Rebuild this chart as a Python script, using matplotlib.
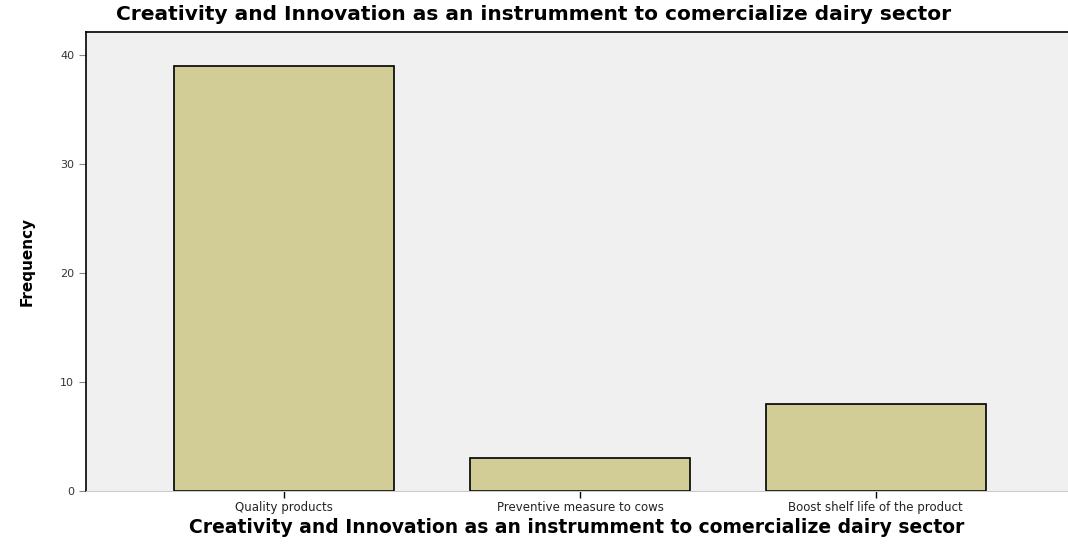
import matplotlib.pyplot as plt
import numpy as np

# Survey responses: frequency per category
categories = ["Quality products", "Preventive measure to cows", "Boost shelf life of the product"]
frequency = [39, 3, 8]
y_ticks = [0, 10, 20, 30, 40]

title = "Creativity and Innovation as an instrumment to comercialize dairy sector"

fig = plt.figure(figsize=(10.68, 5.45), dpi=100)
ax = fig.add_axes([0.0805, 0.099, 0.9195, 0.842])
ax.set_facecolor("#F0F0F0")

x = np.arange(len(categories))
ax.bar(x, frequency, width=0.745, color="#D2CC96", edgecolor="black", linewidth=1.2)

ax.set_xlim(-0.67, 2.65)
ax.set_ylim(0, 42.1)
ax.set_yticks(y_ticks)
ax.set_yticklabels([str(t) for t in y_ticks], fontsize=8, color="#333333")
ax.set_xticks(x)
ax.set_xticklabels(categories, fontsize=8.5, color="#222222")
ax.tick_params(axis="y", direction="out", length=5, width=0.8, color="#888888")
ax.tick_params(axis="x", direction="out", length=5, width=1, color="black", pad=2)

for side in ["left", "top"]:
    ax.spines[side].set_color("black")
    ax.spines[side].set_linewidth(1.2)
ax.spines["bottom"].set_color("#CCCCCC")
ax.spines["right"].set_visible(False)

ax.set_ylabel("Frequency", fontsize=11, fontweight="bold", labelpad=18)

# chart title on top, axis title centred under the plot area
fig.text(0.5, 0.974, title, ha="center", va="center", fontsize=14.5, fontweight="bold")
fig.text(0.0805 + 0.9195 / 2, 0.033, title, ha="center", va="center",
         fontsize=13.5, fontweight="bold")

fig.savefig("out.png", dpi=100)
